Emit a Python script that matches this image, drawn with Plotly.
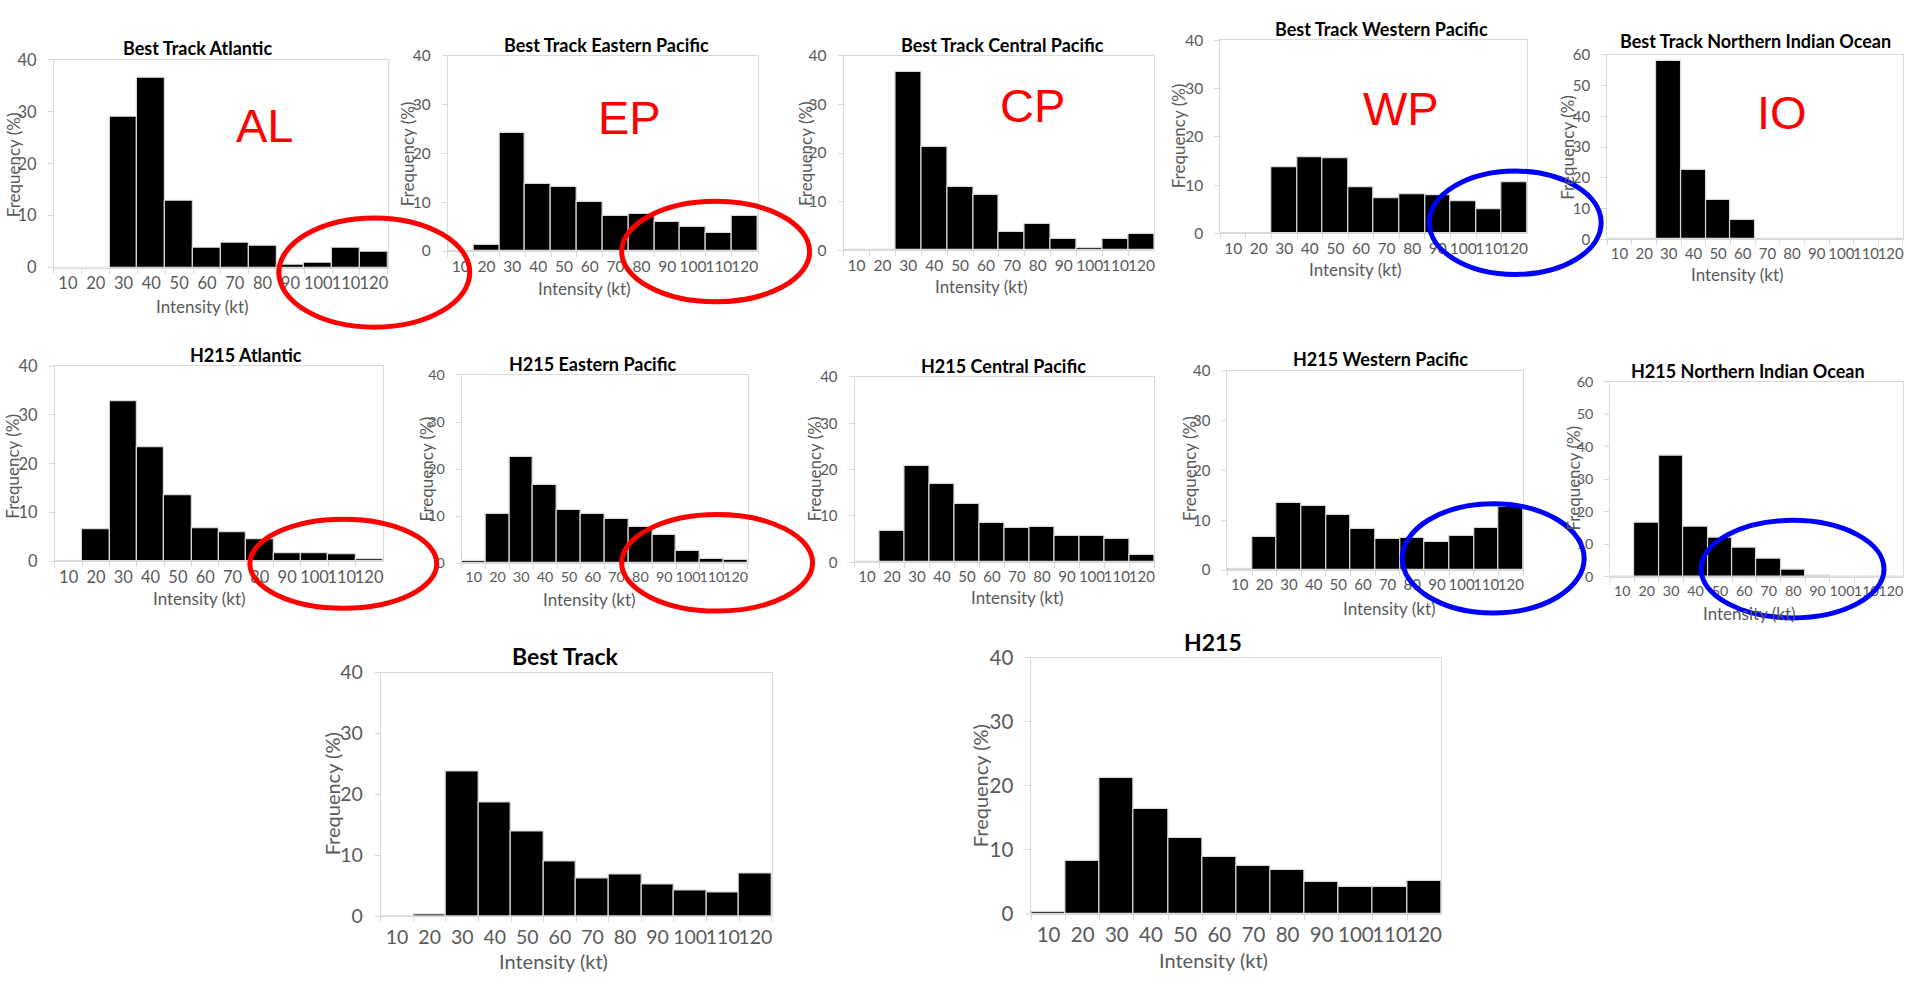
import plotly.graph_objects as go

W, H = 1907, 985

# ---------------- data ----------------
categories = ["10", "20", "30", "40", "50", "60", "70", "80", "90", "100", "110", "120"]

bt_al = [0, 0, 29.0, 36.6, 12.9, 3.8, 4.8, 4.2, 0.45, 1.0, 3.8, 3.1]
bt_ep = [0, 1.3, 24.3, 13.7, 13.1, 10.1, 7.3, 7.7, 6.0, 4.9, 3.8, 7.3]
bt_cp = [0, 0, 36.8, 21.2, 13.0, 11.3, 3.75, 5.4, 2.2, 0.5, 2.2, 3.3]
bt_wp = [0, 0, 13.7, 15.7, 15.5, 9.5, 7.2, 8.1, 7.85, 6.65, 5.0, 10.6]
bt_io = [0, 0, 58.1, 22.5, 12.7, 6.3, 0, 0, 0, 0, 0, 0]

h_al = [0, 6.6, 32.8, 23.3, 13.6, 6.7, 6.0, 4.6, 1.7, 1.75, 1.5, 0.5]
h_ep = [0.55, 10.5, 22.6, 16.6, 11.3, 10.5, 9.45, 7.7, 6.0, 2.55, 0.97, 0.6]
h_cp = [0, 6.7, 20.8, 17.0, 12.7, 8.6, 7.5, 7.7, 5.7, 5.6, 5.0, 1.55]
h_wp = [0.2, 6.7, 13.5, 12.9, 11.0, 8.3, 6.2, 6.5, 5.6, 6.8, 8.4, 12.7]
h_io = [0, 16.7, 37.4, 15.4, 12.1, 9.1, 5.7, 2.2, 0.5, 0, 0, 0]

bt_all = [0, 0.3, 23.8, 18.7, 13.9, 9.0, 6.2, 6.8, 5.2, 4.3, 3.9, 7.1]
h_all = [0.25, 8.3, 21.2, 16.3, 11.8, 8.9, 7.4, 6.75, 5.0, 4.2, 4.2, 5.1]

titles = ["Best Track Atlantic", "Best Track Eastern Pacific", "Best Track Central Pacific",
          "Best Track Western Pacific", "Best Track Northern Indian Ocean",
          "H215 Atlantic", "H215 Eastern Pacific", "H215 Central Pacific",
          "H215 Western Pacific", "H215 Northern Indian Ocean",
          "Best Track", "H215"]
series = [bt_al, bt_ep, bt_cp, bt_wp, bt_io, h_al, h_ep, h_cp, h_wp, h_io, bt_all, h_all]
ymax = [40, 40, 40, 40, 60, 40, 40, 40, 40, 60, 40, 40]
x_title = "Intensity (kt)"
y_title = "Frequency (%)"
basin_labels = ["AL", "EP", "CP", "WP", "IO"]

# ---------------- layout (pixel geometry) ----------------
# plot area: x0, x1, y0(top), y1(bottom)
boxes = [
    (54, 388, 48, 261), (448, 758, 44, 244), (844, 1155, 44, 243), (1221, 1528, 28, 226), (1608, 1904, 43, 232),
    (55, 383, 362, 562), (462, 748, 371, 564), (855, 1155, 373, 563), (1228, 1524, 367, 571), (1611, 1904, 378, 578),
    (381, 772, 676, 926), (1032, 1442, 661, 923),
]
tick_sizes = [16.5, 15.5, 15.5, 15.5, 15, 16.5, 14.3, 15, 15, 14.3, 19.5, 20.5]
title_pos = [(198, 36), (607, 33), (1003, 33), (1382, 16), (1756, 29),
             (246, 351), (593, 360), (1004, 362), (1381, 355), (1749, 367),
             (565, 659), (1214, 645)]
ytitle_pos = [(13, 155), (408, 144), (806, 144), (1180, 126), (1568, 138),
              (13, 464), (427, 467), (815, 467), (1190, 467), (1574, 477),
              (332, 800), (980, 792)]
xtitle_pos = [(203, 301), (585, 282), (982, 280), (1356, 263), (1738, 268),
              (200, 600), (590, 601), (1018, 599), (1390, 610), (1750, 615),
              (554, 972), (1214, 971)]
basin_pos = [(265, 115), (630, 107), (1033, 95), (1402, 98), (1783, 102)]
ellipses = [  # x0, x1, y0, y1, color
    (279, 470, 210, 322, "#ff0000"), (622, 810, 193, 296, "#ff0000"), (1430, 1602, 162, 268, "#0000ff"),
    (250, 437, 519, 610, "#ff0000"), (622, 813, 514, 613, "#ff0000"),
    (1403, 1585, 503, 615, "#0000ff"), (1702, 1885, 520, 620, "#0000ff"),
]

def fx(x):
    return x / W

def fy(y):
    return 1 - y / H

FONT = "Lato, 'Open Sans', sans-serif"
GRAY = "#d9d9d9"
TXT = "#595959"

fig = go.Figure()
annotations = []
layout_axes = {}

for i, (vals, title) in enumerate(zip(series, titles)):
    n = i + 1
    big = i >= 10
    xa = "x" if n == 1 else f"x{n}"
    ya = "y" if n == 1 else f"y{n}"
    fig.add_trace(go.Bar(
        x=categories, y=vals, xaxis=xa, yaxis=ya,
        marker=dict(color="#000000", line=dict(color=GRAY, width=1.2)),
        showlegend=False, hoverinfo="x+y",
    ))
    x0, x1, y0, y1 = boxes[i]
    ts = tick_sizes[i]
    layout_axes["xaxis" if n == 1 else f"xaxis{n}"] = dict(
        domain=[fx(x0), fx(x1)], anchor=ya, type="category",
        categoryorder="array", categoryarray=categories,
        tickson="boundaries", ticks="outside", ticklen=5, tickcolor=GRAY,
        showline=True, linecolor=GRAY, linewidth=1, mirror=True,
        showgrid=False, zeroline=False, fixedrange=True,
        tickfont=dict(family=FONT, size=ts, color=TXT),
        ticklabelstandoff=1 if not big else 3,
        tickangle=0,
    )
    layout_axes["yaxis" if n == 1 else f"yaxis{n}"] = dict(
        domain=[fy(y1), fy(y0)], anchor=xa, range=[0, ymax[i]], dtick=10,
        ticks="outside", ticklen=5, tickcolor=GRAY,
        showline=True, linecolor=GRAY, linewidth=1, mirror=True,
        showgrid=False, zeroline=False, fixedrange=True,
        tickfont=dict(family=FONT, size=ts, color=TXT),
        ticklabelstandoff=8,
    )
    tx, ty = title_pos[i]
    annotations.append(dict(text=f"<b>{title}</b>", x=fx(tx), y=fy(ty), xref="paper", yref="paper",
                            showarrow=False, xanchor="center", yanchor="middle",
                            font=dict(family=FONT, size=23 if big else 18, color="#000000")))
    yx, yy = ytitle_pos[i]
    annotations.append(dict(text=y_title, x=fx(yx), y=fy(yy), xref="paper", yref="paper",
                            showarrow=False, xanchor="center", yanchor="middle", textangle=-90,
                            font=dict(family=FONT, size=20 if big else 17, color=TXT)))
    xx, xy = xtitle_pos[i]
    annotations.append(dict(text=x_title, x=fx(xx), y=fy(xy), xref="paper", yref="paper",
                            showarrow=False, xanchor="center", yanchor="middle",
                            font=dict(family=FONT, size=20 if big else 17, color=TXT)))

for lab, (bx, by) in zip(basin_labels, basin_pos):
    annotations.append(dict(text=lab, x=fx(bx), y=fy(by), xref="paper", yref="paper",
                            showarrow=False, xanchor="center", yanchor="middle",
                            font=dict(family="'Liberation Sans', Arial, sans-serif", size=47, color="#ff0000")))

shapes = []
for (ex0, ex1, ey0, ey1, col) in ellipses:
    shapes.append(dict(type="circle", xref="paper", yref="paper",
                       x0=fx(ex0), x1=fx(ex1), y0=fy(ey1), y1=fy(ey0),
                       line=dict(color=col, width=5), layer="above"))

fig.update_layout(
    width=W, height=H, margin=dict(l=0, r=0, t=0, b=0),
    paper_bgcolor="#ffffff", plot_bgcolor="#ffffff",
    bargap=0, annotations=annotations, shapes=shapes,
    **layout_axes,
)

fig.write_html("out.html")
